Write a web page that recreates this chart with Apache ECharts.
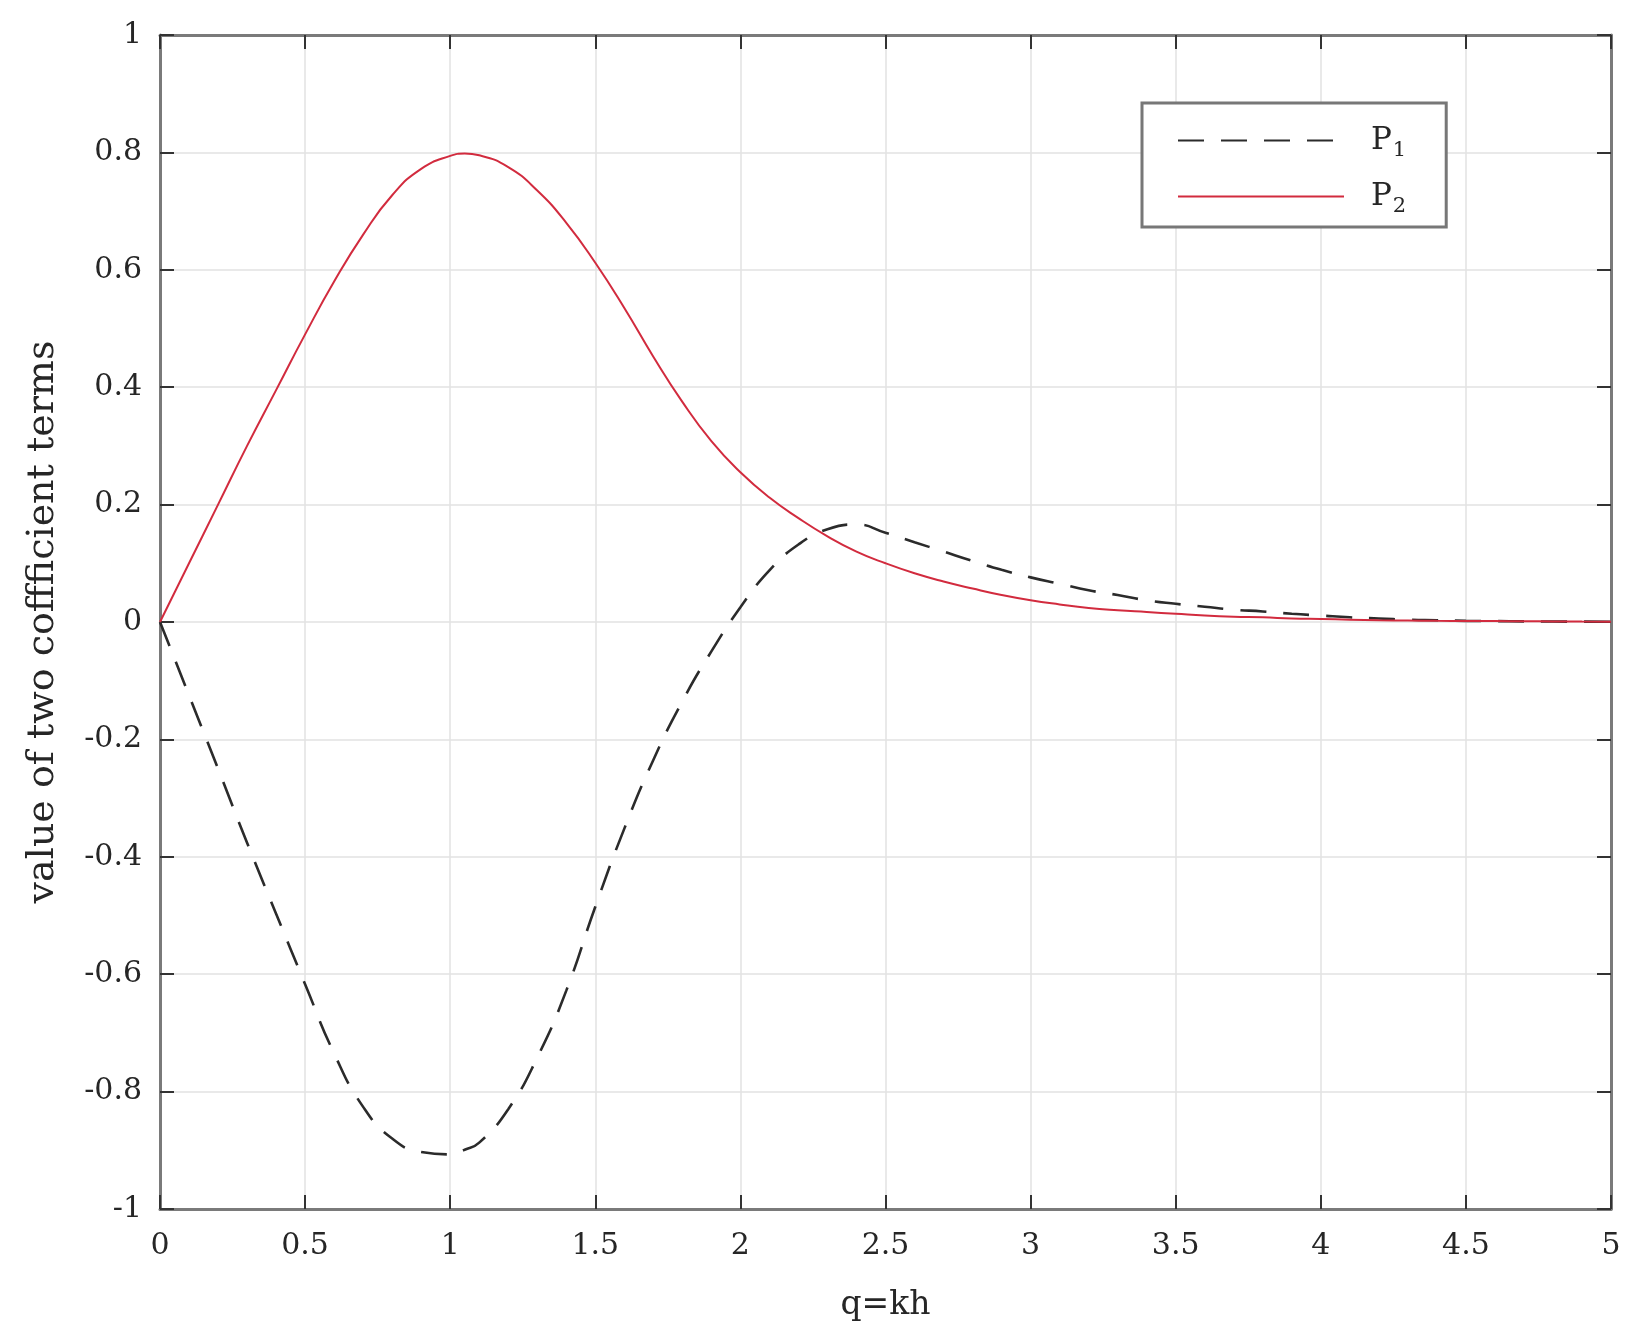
<!DOCTYPE html>
<html>
<head>
<meta charset="utf-8">
<script src="https://cdn.jsdelivr.net/npm/echarts@6/dist/echarts.min.js"></script>
<style>
html,body{margin:0;padding:0;background:#fff;}
#chart{width:1650px;height:1344px;}
</style>
</head>
<body>
<div id="chart"></div>
<script>
const qValues = [0,0.1,0.2,0.3,0.4,0.5,0.6,0.7,0.8,0.9,1.0,1.05,1.1,1.2,1.3,1.4,1.5,1.6,1.7,1.8,1.9,2.0,2.1,2.2,2.3,2.4,2.5,2.6,2.7,2.8,2.9,3.0,3.1,3.2,3.3,3.4,3.5,3.6,3.7,3.8,3.9,4.0,4.1,4.2,4.3,4.4,4.5,4.6,4.7,4.8,4.9,5.0];
const p1Values = [0,-0.125,-0.25,-0.376,-0.497,-0.617,-0.735,-0.826,-0.88,-0.903,-0.907,-0.899,-0.887,-0.83,-0.742,-0.628,-0.485,-0.352,-0.235,-0.135,-0.05,0.025,0.088,0.132,0.158,0.166,0.152,0.136,0.12,0.104,0.089,0.076,0.065,0.054,0.046,0.037,0.031,0.026,0.021,0.018,0.014,0.011,0.008,0.006,0.004,0.003,0.002,0.0015,0.001,0.0008,0.0006,0.0005];
const p2Values = [0,0.10,0.20,0.30,0.395,0.49,0.58,0.66,0.727,0.772,0.794,0.798,0.795,0.775,0.735,0.68,0.612,0.535,0.452,0.375,0.308,0.255,0.212,0.177,0.146,0.120,0.100,0.083,0.069,0.057,0.046,0.037,0.030,0.024,0.020,0.017,0.014,0.011,0.009,0.008,0.006,0.005,0.004,0.003,0.0025,0.002,0.0018,0.0015,0.0012,0.001,0.0007,0.0005];
const seriesNames = ['P1','P2'];
const xTitle = 'q=kh';
const yTitle = 'value of two coffficient terms';

const FONT = 'DejaVu Serif';
const pairs = (ys) => qValues.map((q, i) => [q, ys[i]]);

const chart = echarts.init(document.getElementById('chart'), null, {renderer: 'canvas'});

const baseAxis = {
  axisLine: {show: true, onZero: false, lineStyle: {color: '#7a7a7a', width: 3}},
  axisTick: {show: true, inside: true, length: 14, lineStyle: {color: '#333', width: 2}},
  splitLine: {show: true, lineStyle: {color: '#e2e2e2', width: 1.5}},
  axisLabel: {fontFamily: FONT, fontSize: 30, color: '#262626'}
};

chart.setOption({
  animation: false,
  backgroundColor: '#fff',
  grid: {left: 160, top: 35, right: 39, bottom: 135, containLabel: false},
  legend: {
    left: 1142, top: 103,
    orient: 'vertical',
    backgroundColor: '#fff',
    borderColor: '#777', borderWidth: 3, borderRadius: 0,
    padding: [17, 40, 10, 35],
    itemWidth: 166, itemHeight: 20, itemGap: 15,
    itemStyle: {color: 'rgba(0,0,0,0)', borderWidth: 0, opacity: 0},
    data: seriesNames,
    formatter: function (name) { return '{a|P}{s|' + name.slice(1) + '}'; },
    textStyle: {
      fontFamily: FONT, color: '#262626', padding: [0, 0, 0, 22],
      rich: {
        a: {fontFamily: FONT, fontSize: 31, color: '#262626', lineHeight: 38},
        s: {fontFamily: FONT, fontSize: 21, color: '#262626', lineHeight: 38, padding: [20, 0, 0, 1]}
      }
    }
  },
  xAxis: [
    Object.assign({}, baseAxis, {
      type: 'value', min: 0, max: 5, interval: 0.5, position: 'bottom',
      name: xTitle, nameLocation: 'middle', nameGap: 80,
      nameTextStyle: {fontFamily: FONT, fontSize: 33, color: '#262626'},
      axisLabel: Object.assign({}, baseAxis.axisLabel, {margin: 22})
    }),
    Object.assign({}, baseAxis, {
      type: 'value', min: 0, max: 5, interval: 0.5, position: 'top',
      axisLabel: {show: false}, splitLine: {show: false}
    })
  ],
  yAxis: [
    Object.assign({}, baseAxis, {
      type: 'value', min: -1, max: 1, interval: 0.2, position: 'left',
      name: yTitle, nameLocation: 'middle', nameGap: 98, nameRotate: 90,
      nameTextStyle: {fontFamily: FONT, fontSize: 38, color: '#262626'},
      axisLabel: Object.assign({}, baseAxis.axisLabel, {margin: 18})
    }),
    Object.assign({}, baseAxis, {
      type: 'value', min: -1, max: 1, interval: 0.2, position: 'right',
      axisLabel: {show: false}, splitLine: {show: false}
    })
  ],
  series: [
    {
      name: seriesNames[0], type: 'line', xAxisIndex: 0, yAxisIndex: 0,
      data: pairs(p1Values), showSymbol: false, symbol: 'none', smooth: 0.5,
      lineStyle: {color: '#2b2b2b', width: 2.6, type: [26, 17]},
      itemStyle: {color: '#2b2b2b'}, z: 3
    },
    {
      name: seriesNames[1], type: 'line', xAxisIndex: 0, yAxisIndex: 0,
      data: pairs(p2Values), showSymbol: false, symbol: 'none', smooth: 0.5,
      lineStyle: {color: '#d22b3e', width: 2},
      itemStyle: {color: '#d22b3e'}, z: 4
    }
  ]
});
</script>
</body>
</html>
